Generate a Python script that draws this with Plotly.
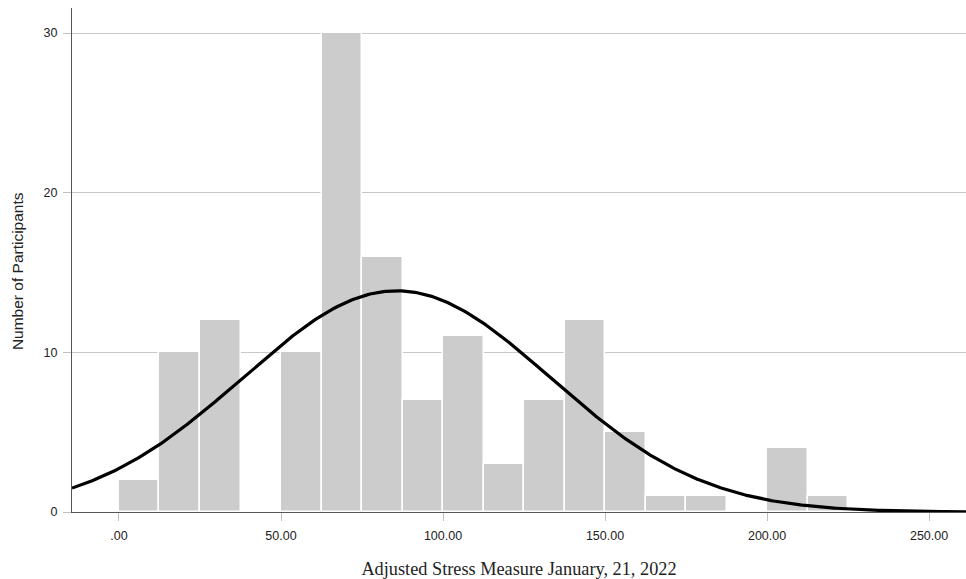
import numpy as np
import plotly.graph_objects as go

# Histogram bins (lower edges) and counts
bin_starts = [0, 12.5, 25, 37.5, 50, 62.5, 75, 87.5, 100, 112.5, 125, 137.5, 150, 162.5, 175, 187.5, 200, 212.5]
counts = [2, 10, 12, 0, 10, 30, 16, 7, 11, 3, 7, 12, 5, 1, 1, 0, 4, 1]
bin_width = 12.5

# Normal curve parameters
curve_mean = 85.7
curve_sd = 47.5

x_tick_vals = [0, 50, 100, 150, 200, 250]
x_tick_text = [".00", "50.00", "100.00", "150.00", "200.00", "250.00"]
y_tick_vals = [0, 10, 20, 30]

n_total = sum(counts)
centers = [s + bin_width / 2 for s in bin_starts]

xs = np.linspace(-14.5, 261.5, 400)
ys = n_total * bin_width / (curve_sd * np.sqrt(2 * np.pi)) * np.exp(-0.5 * ((xs - curve_mean) / curve_sd) ** 2)

fig = go.Figure()
fig.add_trace(go.Bar(
    x=centers, y=counts, width=bin_width,
    marker=dict(color="#cccccc", line=dict(color="white", width=1.5)),
    hoverinfo="skip",
))
fig.add_trace(go.Scatter(
    x=xs, y=ys, mode="lines",
    line=dict(color="black", width=3.2),
    hoverinfo="skip",
))

fig.update_layout(
    width=966, height=579,
    margin=dict(l=72, r=0, t=8, b=67),
    plot_bgcolor="white", paper_bgcolor="white",
    showlegend=False,
    bargap=0,
    font=dict(family="Liberation Sans, Arial, sans-serif", size=12, color="#222"),
    xaxis=dict(
        range=[-14.5, 261.4],
        tickvals=x_tick_vals, ticktext=x_tick_text,
        ticks="outside", ticklen=8, tickcolor="#c0c0c0", tickwidth=1,
        ticklabelstandoff=4,
        showgrid=False, zeroline=False,
        showline=True, linecolor="#555555", linewidth=1,
        tickfont=dict(size=12.5, color="#222"),
        title=dict(text="Adjusted Stress Measure January, 21, 2022",
                   font=dict(family="Liberation Serif, Times New Roman, serif", size=18.3, color="#222"),
                   standoff=20),
    ),
    yaxis=dict(
        range=[0, 31.57],
        tickvals=y_tick_vals,
        ticks="outside", ticklen=8, tickcolor="#c0c0c0", tickwidth=1,
        ticklabelstandoff=3,
        showgrid=True, gridcolor="#c8c8c8", gridwidth=1,
        zeroline=False,
        showline=True, linecolor="#555555", linewidth=1,
        tickfont=dict(size=12.5, color="#222"),
    ),
    annotations=[dict(
        text="Number of Participants", textangle=-90,
        xref="paper", yref="paper", x=-0.0615, y=0.478,
        xanchor="center", yanchor="middle", showarrow=False,
        font=dict(family="Liberation Sans, Arial, sans-serif", size=15.5, color="#222"),
    )],
)

fig.write_html(
    "out.html",
    config={"displayModeBar": False},
    post_script="document.body.style.margin='0px';document.body.style.overflow='hidden';",
)
